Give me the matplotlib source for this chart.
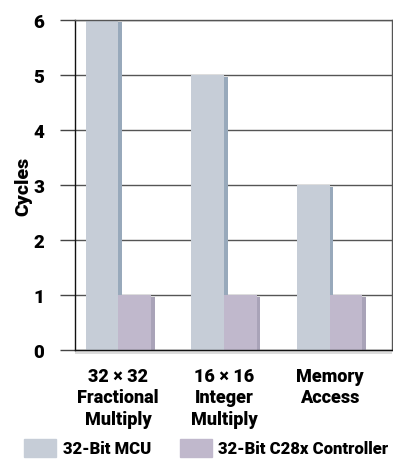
import matplotlib
matplotlib.use("Agg")
import matplotlib.pyplot as plt
from matplotlib.patches import Rectangle
import numpy as np

categories = ["32 \u00d7 32\nFractional\nMultiply", "16 \u00d7 16\nInteger\nMultiply", "Memory\nAccess"]
mcu_cycles = [6, 5, 3]
c28x_cycles = [1, 1, 1]
series_names = ["32-Bit MCU", "32-Bit C28x Controller"]
yticks = [0, 1, 2, 3, 4, 5, 6]

FONT = ["Roboto", "DejaVu Sans"]
plt.rcParams["font.family"] = FONT
WEIGHT = "heavy"

MCU_FACE, MCU_SIDE = "#c6cdd7", "#98a9bb"
C28_FACE, C28_SIDE = "#c0b8cc", "#a9a3b8"

fig = plt.figure(figsize=(3.93, 4.60), dpi=100)
ax = fig.add_axes([0.1908, 0.237, 0.8067, 0.7173])

x = np.arange(len(categories))
w = 0.31
d = 0.035
ax.bar(x - w, mcu_cycles, width=w, align="edge", color=MCU_FACE, zorder=3)
ax.bar(x, np.array(mcu_cycles) - 0.04, width=d, align="edge", color=MCU_SIDE, zorder=2)
ax.bar(x, c28x_cycles, width=w, align="edge", color=C28_FACE, zorder=3)
ax.bar(x + w, np.array(c28x_cycles) - 0.04, width=d, align="edge", color=C28_SIDE, zorder=2)

ax.set_xlim(-0.41, 2.59)
ax.set_ylim(0, 6)
ax.set_yticks(yticks)
ax.set_yticklabels([str(t) for t in yticks], fontsize=13.5, fontweight=WEIGHT)
ax.tick_params(axis="y", length=11, width=1, color="#444", pad=11)
ax.set_xticks(x)
ax.set_xticklabels(categories, fontsize=13, fontweight=WEIGHT, linespacing=1.25)
ax.tick_params(axis="x", length=0, pad=12)
ax.grid(axis="y", color="#555", linewidth=1, zorder=1)
ax.set_axisbelow(True)

ax.spines["left"].set_color("#111")
ax.spines["bottom"].set_color("#111")
ax.spines["right"].set_color("#555")
ax.spines["top"].set_color("#555")
for s in ax.spines.values():
    s.set_linewidth(1)
    s.set_zorder(4)

ax.set_ylabel("Cycles", fontsize=14, fontweight=WEIGHT, labelpad=1)

# floor shadow under the base line
ax.axhspan(-0.07, 0, color="#dcdcdc", clip_on=False, zorder=0, lw=0)

# legend, placed by hand in figure pixels
W, H = 393, 460
legend_items = [(24, 63, MCU_FACE, series_names[0]),
                (180, 218, C28_FACE, series_names[1])]
for sx, tx, col, name in legend_items:
    fig.add_artist(Rectangle((sx / W, 1 - 458 / H), 32 / W, 18 / H,
                             transform=fig.transFigure, color=col))
    fig.text(tx / W, 1 - 449 / H, name, fontsize=12, fontweight=WEIGHT,
             va="center", ha="left")

fig.savefig("out.png", dpi=100, facecolor="white")
